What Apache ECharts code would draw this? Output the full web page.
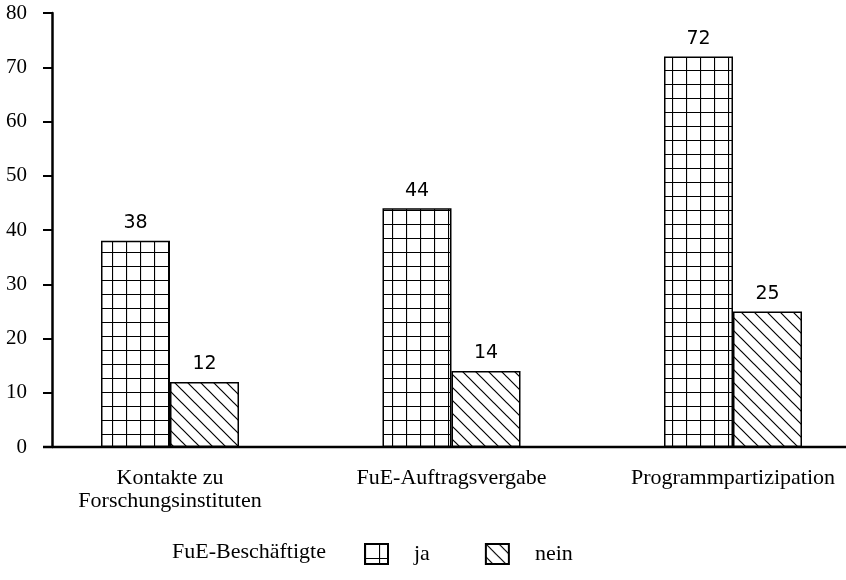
<!DOCTYPE html>
<html>
<head>
<meta charset="utf-8">
<script src="https://cdn.jsdelivr.net/npm/echarts@6/dist/echarts.min.js"></script>
<style>
    html, body { margin: 0; padding: 0; background: #fff; }
    #chart { width: 846px; height: 580px; }
</style>
</head>
<body>
<div id="chart"></div>
<script>
var categories = ['Kontakte zu\nForschungsinstituten', 'FuE-Auftragsvergabe', 'Programmpartizipation']
var jaValues = [38, 44, 72]
var neinValues = [12, 14, 25]
var legendTitle = 'FuE-Beschäftigte'

//Muster fuer die Balken
var makeTile = (w, h, draw) => {
    var c = document.createElement('canvas')
    c.width = w
    c.height = h
    var ctx = c.getContext('2d')
    ctx.fillStyle = '#fff'
    ctx.fillRect(0, 0, w, h)
    ctx.strokeStyle = '#000'
    ctx.lineWidth = 1.2
    draw(ctx)
    return c
}

var gridTile = makeTile(14, 14, (ctx) => {
    ctx.beginPath()
    ctx.moveTo(0.5, 0)
    ctx.lineTo(0.5, 14)
    ctx.moveTo(0, 0.5)
    ctx.lineTo(14, 0.5)
    ctx.stroke()
})

var hatchTile = makeTile(13, 13, (ctx) => {
    ctx.beginPath()
    ctx.moveTo(-1, -1)
    ctx.lineTo(14, 14)
    ctx.moveTo(-2, 11)
    ctx.lineTo(2, 15)
    ctx.moveTo(11, -2)
    ctx.lineTo(15, 2)
    ctx.stroke()
})

var serif = '"Liberation Serif", "DejaVu Serif", serif'
var chart = echarts.init(document.getElementById('chart'))

var valueLabel = {
    show: true,
    position: 'top',
    distance: 8,
    fontFamily: '"DejaVu Sans", sans-serif',
    fontSize: 19,
    color: '#000'
}

chart.setOption({
    animation: false,
    backgroundColor: '#fff',
    title: {
        text: legendTitle,
        left: 172,
        top: 541,
        padding: 0,
        textStyle: { fontFamily: serif, fontSize: 22, fontWeight: 'normal', color: '#000' }
    },
    legend: {
        left: 364,
        top: 543,
        padding: 0,
        itemWidth: 23,
        itemHeight: 20,
        itemGap: 55,
        icon: 'rect',
        data: ['ja', 'nein'],
        textStyle: { fontFamily: serif, fontSize: 22, color: '#000', padding: [0, 0, 0, 21] }
    },
    grid: {
        left: 29.25,
        top: 13,
        width: 844.5,
        bottom: 133,
        outerBoundsMode: 'none'
    },
    xAxis: {
        type: 'category',
        data: categories,
        axisLine: { show: false },
        axisTick: { show: false },
        axisLabel: {
            fontFamily: serif,
            fontSize: 22,
            lineHeight: 23,
            color: '#000',
            margin: 20
        }
    },
    yAxis: {
        type: 'value',
        min: 0,
        max: 80,
        interval: 10,
        offset: -22.75,
        axisLine: { show: true, lineStyle: { color: '#000', width: 2.5 } },
        axisTick: { show: true, length: 9, lineStyle: { color: '#000', width: 2 } },
        splitLine: { show: false },
        axisLabel: {
            fontFamily: serif,
            fontSize: 21,
            color: '#000',
            margin: 25
        }
    },
    graphic: [
        {
            type: 'line',
            shape: { x1: 43, y1: 447, x2: 846, y2: 447 },
            style: { stroke: '#000', lineWidth: 2.5 }
        }
    ],
    series: [
        {
            name: 'ja',
            type: 'bar',
            data: jaValues,
            barWidth: 69,
            barGap: '0%',
            itemStyle: {
                color: { image: gridTile, repeat: 'repeat' },
                borderColor: '#000',
                borderWidth: 1.5
            },
            label: valueLabel
        },
        {
            name: 'nein',
            type: 'bar',
            data: neinValues,
            barWidth: 69,
            itemStyle: {
                color: { image: hatchTile, repeat: 'repeat' },
                borderColor: '#000',
                borderWidth: 1.5
            },
            label: valueLabel
        }
    ]
})
</script>
</body>
</html>
